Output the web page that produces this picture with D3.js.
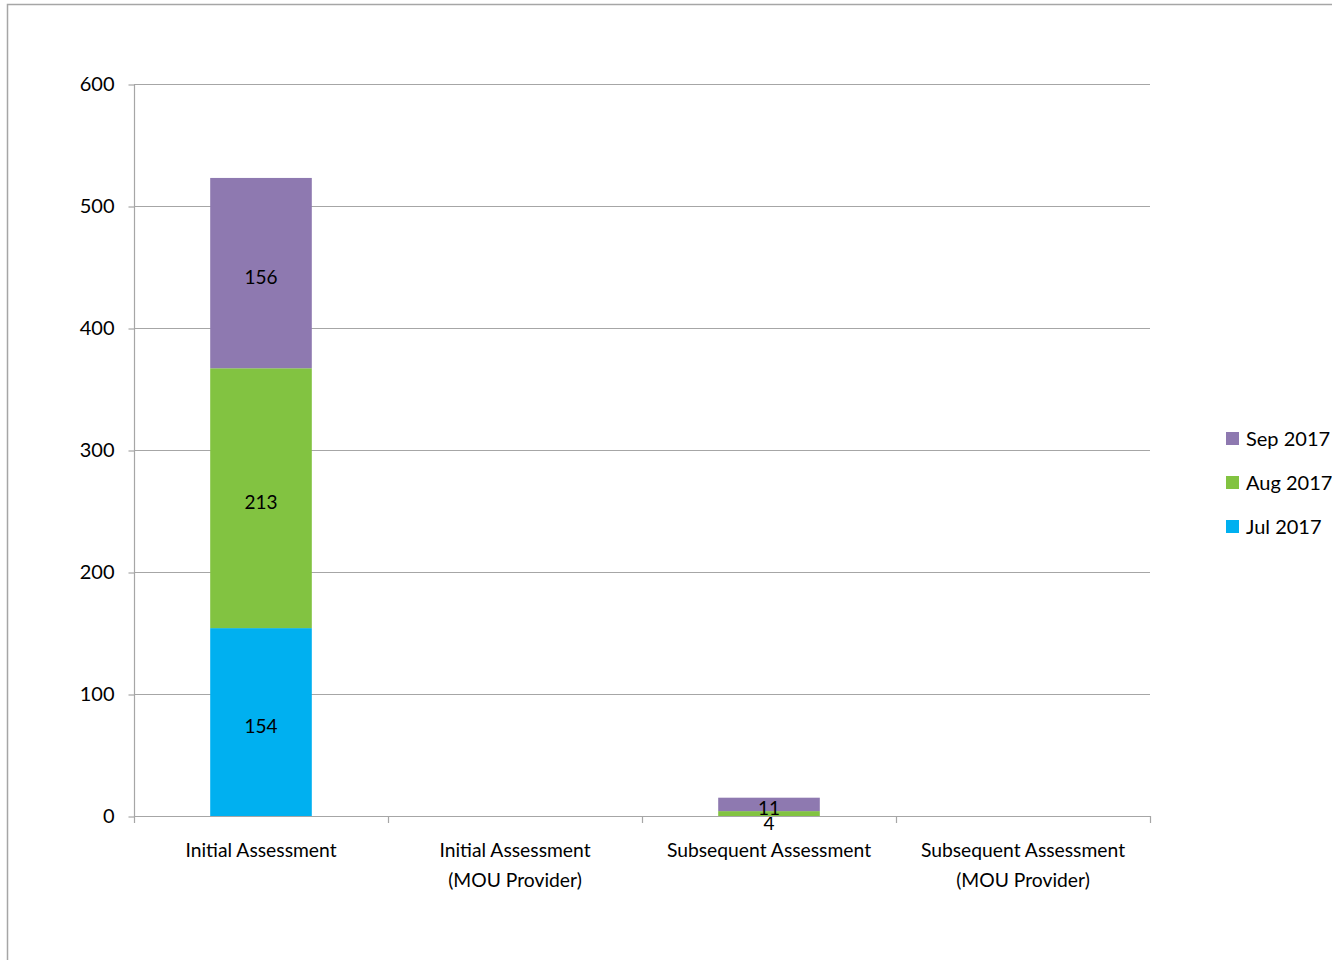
<!DOCTYPE html>
<html><head><meta charset="utf-8">
<script src="https://cdn.jsdelivr.net/npm/d3@7"></script>
<style>
html,body{margin:0;padding:0;background:#fff;}
svg{display:block;font-family:Lato,"Open Sans",sans-serif;}
</style></head>
<body><svg id="chart" width="1332" height="960"></svg>
<script>
const categories = [["Initial Assessment"], ["Initial Assessment", "(MOU Provider)"], ["Subsequent Assessment"], ["Subsequent Assessment", "(MOU Provider)"]];
const seriesNames = ["Jul 2017", "Aug 2017", "Sep 2017"];
const jul2017 = [154, 0, 0, 0];
const aug2017 = [213, 0, 4, 0];
const sep2017 = [156, 0, 11, 0];
const yTicks = [0, 100, 200, 300, 400, 500, 600];
const colors = ["#00B0F0", "#82C341", "#8E79B0"];

const svg = d3.select("#chart");
// outer frame
svg.append("rect").attr("x", 7.5).attr("y", 4.5).attr("width", 1400).attr("height", 1000)
  .attr("fill", "none").attr("stroke", "#a6a6a6").attr("stroke-width", 1.5);

const L = 134, R = 1150, T = 84, B = 816;
const x = d3.scaleBand().domain(d3.range(categories.length)).range([L, R]).paddingInner(0).paddingOuter(0);
const y = d3.scaleLinear().domain([0, 600]).range([B, T]);

// gridlines
svg.append("g").selectAll("line").data(yTicks.filter(d => d > 0)).join("line")
  .attr("x1", L).attr("x2", R).attr("y1", d => y(d) + 0.5).attr("y2", d => y(d) + 0.5)
  .attr("stroke", "#a6a6a6").attr("stroke-width", 1.2);

// y axis
const yAxis = svg.append("g").attr("transform", `translate(${L + 0.5},0.5)`)
  .call(d3.axisLeft(y).tickValues(yTicks).tickSize(6).tickPadding(14).tickFormat(d3.format("d")));
yAxis.select(".domain").attr("stroke", "#a6a6a6").attr("stroke-width", 1.2).attr("d", `M0,${T}V${B}`);
yAxis.selectAll(".tick line").attr("stroke", "#a6a6a6").attr("stroke-width", 1.2);
yAxis.selectAll(".tick text").attr("font-size", 20).attr("fill", "#000").attr("font-family", "Lato, sans-serif");

// stack
const rows = categories.map((c, i) => ({ i, "Jul 2017": jul2017[i], "Aug 2017": aug2017[i], "Sep 2017": sep2017[i] }));
const stack = d3.stack().keys(seriesNames)(rows);
const bw = x.bandwidth() * 0.4;
stack.forEach((s, si) => {
  const g = svg.append("g");
  g.selectAll("rect").data(s).join("rect")
    .attr("x", d => x(d.data.i) + (x.bandwidth() - bw) / 2)
    .attr("width", bw)
    .attr("y", d => y(d[1]))
    .attr("height", d => y(d[0]) - y(d[1]))
    .attr("fill", colors[si]);
  g.selectAll("text").data(s.filter(d => d[1] - d[0] > 0)).join("text")
    .attr("x", d => x(d.data.i) + x.bandwidth() / 2)
    .attr("y", d => (d[1] - d[0]) < 8 ? y(d[0]) + 7 : (d[1] - d[0]) < 20 ? y(d[1]) + 11 : (y(d[0]) + y(d[1])) / 2 + 4)
    .attr("dy", "0.35em")
    .attr("text-anchor", "middle").attr("font-size", 19).attr("fill", "#000")
    .text(d => d[1] - d[0]);
});

// x axis
const xg = svg.append("g");
xg.append("line").attr("x1", L).attr("x2", R).attr("y1", B + 0.5).attr("y2", B + 0.5)
  .attr("stroke", "#a6a6a6").attr("stroke-width", 1.2);
const bounds = d3.range(categories.length + 1).map(i => i < categories.length ? x(i) : R);
xg.selectAll("line.tk").data(bounds).join("line").attr("class", "tk")
  .attr("x1", d => d + 0.5).attr("x2", d => d + 0.5).attr("y1", B).attr("y2", B + 7)
  .attr("stroke", "#a6a6a6").attr("stroke-width", 1.2);
categories.forEach((lines, i) => {
  const t = xg.append("text").attr("x", x(i) + x.bandwidth() / 2).attr("y", 857)
    .attr("text-anchor", "middle").attr("font-size", 19.3).attr("fill", "#000");
  lines.forEach((ln, k) => t.append("tspan").attr("x", x(i) + x.bandwidth() / 2).attr("dy", k ? 30 : 0).text(ln));
});

// legend
const legendOrder = [2, 1, 0];
const lg = svg.append("g");
legendOrder.forEach((si, k) => {
  const yy = 439 + k * 44;
  lg.append("rect").attr("x", 1226).attr("y", yy - 7).attr("width", 13).attr("height", 13).attr("fill", colors[si]);
  lg.append("text").attr("x", 1246).attr("y", yy).attr("dy", "0.35em").attr("font-size", 20).attr("fill", "#000").text(seriesNames[si]);
});
</script></body></html>
